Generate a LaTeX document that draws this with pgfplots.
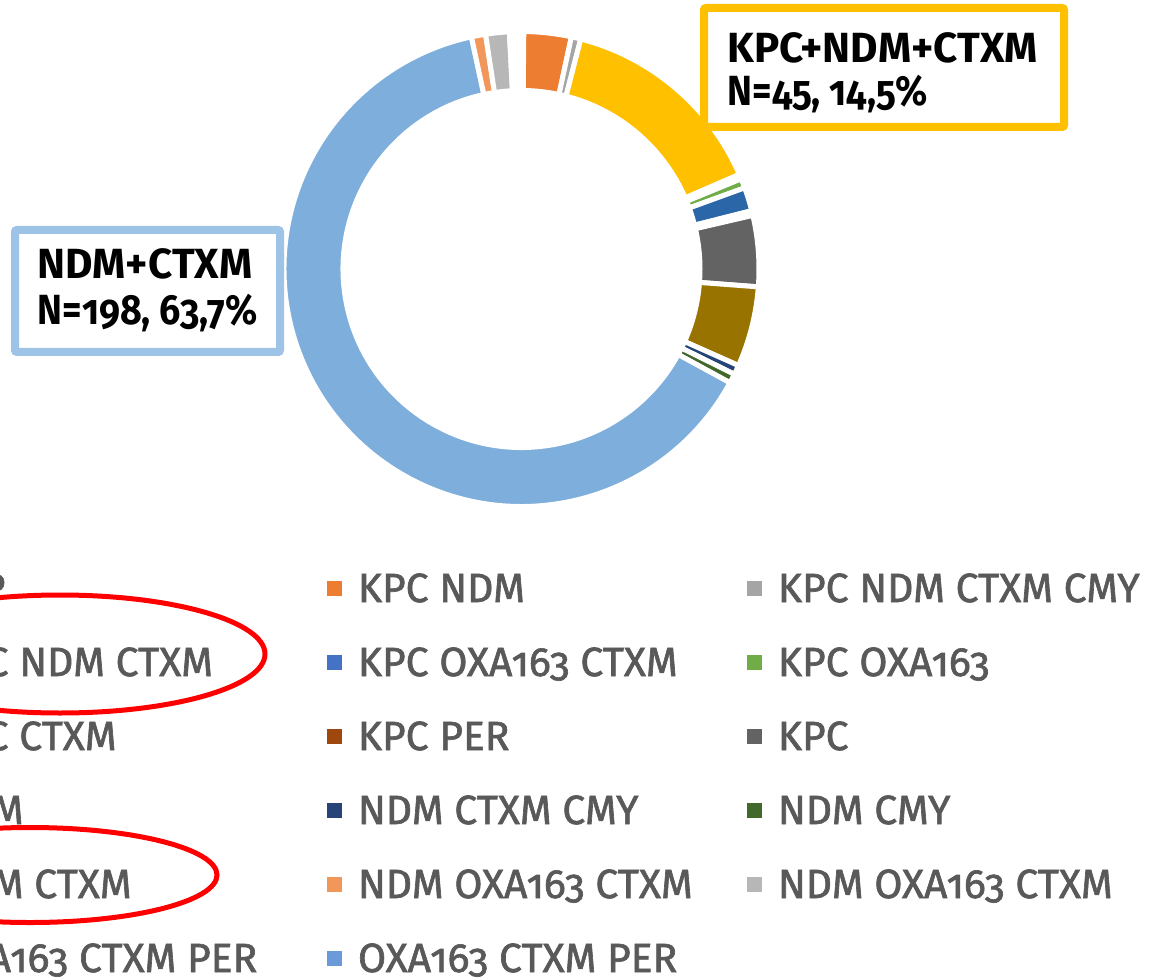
\documentclass[border=0pt]{standalone}
\usepackage{pgfplots}
\pgfplotsset{compat=1.18}
\usepackage{pgfplotstable}
\usepackage{fontspec}
\setmainfont{Fira Sans}[Numbers=OldStyle]
\newfontfamily\legfont{Fira Sans}[Numbers=OldStyle, FakeBold=1.6]
\usetikzlibrary{calc}

\definecolor{cIMP}{HTML}{4472C4}
\definecolor{cKN}{HTML}{ED7D31}
\definecolor{cKNCC}{HTML}{A5A5A5}
\definecolor{cKNC}{HTML}{FFC000}
\definecolor{cKOC}{HTML}{4472C4}
\definecolor{cKO}{HTML}{70AD47}
\definecolor{cKC}{HTML}{2A66A8}
\definecolor{cKP}{HTML}{9E480E}
\definecolor{cK}{HTML}{636363}
\definecolor{cN}{HTML}{997300}
\definecolor{cNCC}{HTML}{264478}
\definecolor{cNCM}{HTML}{43682B}
\definecolor{cNC}{HTML}{7EAEDC}
\definecolor{cNOCa}{HTML}{F1975A}
\definecolor{cNOCb}{HTML}{B7B7B7}
\definecolor{cOCPa}{HTML}{7EAEDC}
\definecolor{cOCPb}{HTML}{6A9AD8}
\definecolor{legendgray}{HTML}{595959}
\definecolor{boxyellow}{HTML}{FFC000}
\definecolor{boxblue}{HTML}{9DC3E6}

% counts per combination, in the order of the ring (clockwise from the top)
\pgfplotstableread[col sep=comma]{
label,n,col
IMP,1,cIMP
KPC NDM,10,cKN
KPC NDM CTXM CMY,2,cKNCC
KPC NDM CTXM,45,cKNC
KPC OXA163 CTXM,1,cKOC
KPC OXA163,2,cKO
KPC CTXM,5,cKC
KPC PER,1,cKP
KPC,15,cK
NDM,17,cN
NDM CTXM CMY,2,cNCC
NDM CMY,2,cNCM
NDM CTXM,198,cNC
NDM OXA163 CTXM,3,cNOCa
NDM OXA163 CTXM,5,cNOCb
OXA163 CTXM PER,1,cOCPa
OXA163 CTXM PER,1,cOCPb
}\ringdata

\newcommand{\legtext}[1]{\makebox[38.9mm][l]{#1}}
\newcommand{\boxfont}{\fontsize{12pt}{13pt}\selectfont\bfseries}

\begin{document}
\begin{tikzpicture}
\useasboundingbox (0,0) rectangle (115.5mm,97.8mm);
\clip (0,0) rectangle (115.5mm,97.8mm);
\begin{axis}[
  at={(0,0)}, anchor=south west, scale only axis,
  width=115.5mm, height=97.8mm,
  xmin=0, xmax=1155, ymin=0, ymax=978,
  hide axis, clip=false,
  legend columns=3,
  legend cell align=left,
  legend image code/.code={\fill[#1] (0mm,-0.75mm) rectangle (1.5mm,0.75mm);},
  legend style={at={(axis description cs:-0.08052,0.43609)}, anchor=north west,
     draw=none, fill=none, inner sep=0pt, outer sep=0pt,
     column sep=0pt, row sep=0pt,
     font=\legfont\fontsize{11.6pt}{13pt}\selectfont, text=legendgray,
     nodes={inner sep=0pt, outer sep=0pt, anchor=west, text height=5.05mm, text depth=2.35mm},
     /tikz/every odd column/.style={column sep=1.6mm}},
]
% ---- ring ----
\def\firstangle{-0.6}
\pgfplotstablegetrowsof{\ringdata}
\pgfmathtruncatemacro\lastrow{\pgfplotsretval-1}
\def\ringtotal{0}
\pgfplotsforeachungrouped \i in {0,...,\lastrow}{%
  \pgfplotstablegetelem{\i}{n}\of\ringdata
  \pgfmathsetmacro\ringtotal{\ringtotal+\pgfplotsretval}%
}
\def\cum{0}
\pgfplotsforeachungrouped \i in {0,...,\lastrow}{%
  \pgfplotstablegetelem{\i}{n}\of\ringdata \let\val\pgfplotsretval
  \pgfplotstablegetelem{\i}{col}\of\ringdata \let\col\pgfplotsretval
  \pgfmathsetmacro\aone{90-(\firstangle+360*(\cum/\ringtotal))}%
  \pgfmathsetmacro\cum{\cum+\val}%
  \pgfmathsetmacro\atwo{90-(\firstangle+360*(\cum/\ringtotal))}%
  \edef\seg{\noexpand\fill[fill=\col, draw=white, line width=0.5mm]
     ($(axis cs:521.5,709)+(\aone:23.75mm)$) arc[start angle=\aone, end angle=\atwo, radius=23.75mm]
     -- ($(axis cs:521.5,709)+(\atwo:17.85mm)$) arc[start angle=\atwo, end angle=\aone, radius=17.85mm] -- cycle;}%
  \seg
}
% ---- legend ----
\addlegendimage{fill=cIMP,draw=none}\addlegendentry{\legtext{IMP}}
\addlegendimage{fill=cKN,draw=none}\addlegendentry{\legtext{KPC NDM}}
\addlegendimage{fill=cKNCC,draw=none}\addlegendentry{\legtext{KPC NDM CTXM CMY}}
\addlegendimage{fill=cKNC,draw=none}\addlegendentry{\legtext{KPC NDM CTXM}}
\addlegendimage{fill=cKOC,draw=none}\addlegendentry{\legtext{KPC OXA163 CTXM}}
\addlegendimage{fill=cKO,draw=none}\addlegendentry{\legtext{KPC OXA163}}
\addlegendimage{fill=cKC,draw=none}\addlegendentry{\legtext{KPC CTXM}}
\addlegendimage{fill=cKP,draw=none}\addlegendentry{\legtext{KPC PER}}
\addlegendimage{fill=cK,draw=none}\addlegendentry{\legtext{KPC}}
\addlegendimage{fill=cN,draw=none}\addlegendentry{\legtext{NDM}}
\addlegendimage{fill=cNCC,draw=none}\addlegendentry{\legtext{NDM CTXM CMY}}
\addlegendimage{fill=cNCM,draw=none}\addlegendentry{\legtext{NDM CMY}}
\addlegendimage{fill=cNC,draw=none}\addlegendentry{\legtext{NDM CTXM}}
\addlegendimage{fill=cNOCa,draw=none}\addlegendentry{\legtext{NDM OXA163 CTXM}}
\addlegendimage{fill=cNOCb,draw=none}\addlegendentry{\legtext{NDM OXA163 CTXM}}
\addlegendimage{fill=cOCPa,draw=none}\addlegendentry{\legtext{OXA163 CTXM PER}}
\addlegendimage{fill=cOCPb,draw=none}\addlegendentry{\legtext{OXA163 CTXM PER}}
% ---- call-out boxes ----
\draw[line width=0.8mm, draw=boxyellow, fill=white, rounded corners=0.2mm]
  (axis cs:704,970) rectangle (axis cs:1064,851);
\node[anchor=base west, inner sep=0pt, font=\boxfont]
  at (axis cs:727,915) {KPC+NDM+CTXM};
\node[anchor=base west, inner sep=0pt, font=\boxfont]
  at (axis cs:727,872) {\scalebox{0.89}[1]{N=45, 14,5\%}};
\draw[line width=0.8mm, draw=boxblue, fill=white, rounded corners=0.2mm]
  (axis cs:15,748) rectangle (axis cs:280,626);
\node[anchor=base west, inner sep=0pt, font=\boxfont]
  at (axis cs:37,699) {NDM+CTXM};
\node[anchor=base west, inner sep=0pt, font=\boxfont]
  at (axis cs:37,653) {\scalebox{0.89}[1]{N=198, 63,7\%}};
% ---- red highlight ellipses ----
\draw[red, line width=0.5mm] (axis cs:60,324) ellipse [x radius=20.5mm, y radius=5.9mm];
\draw[red, line width=0.5mm] (axis cs:30,103) ellipse [x radius=18.7mm, y radius=4.75mm];
\end{axis}
\end{tikzpicture}
\end{document}
